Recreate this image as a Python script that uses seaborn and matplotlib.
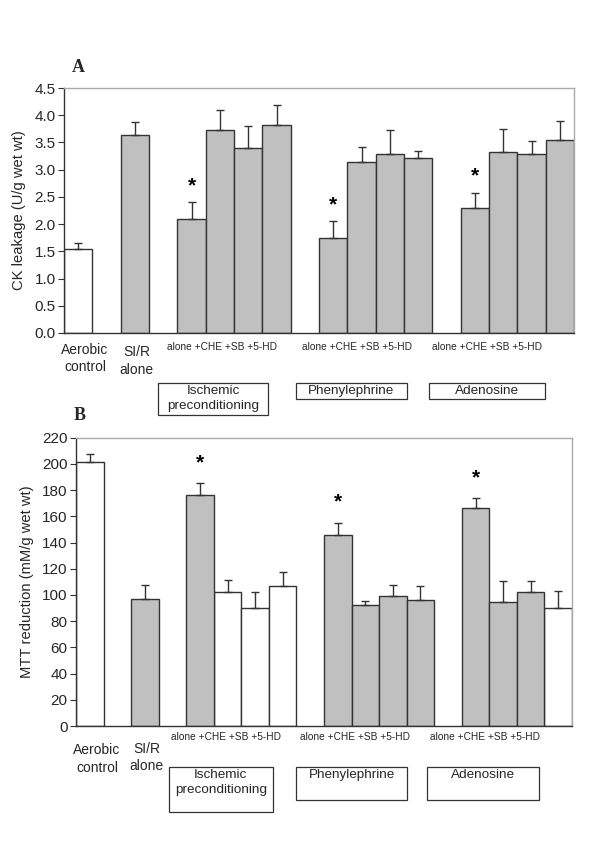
import numpy as np
import pandas as pd
import matplotlib
matplotlib.use("Agg")
import matplotlib.pyplot as plt
from matplotlib.patches import Rectangle
import matplotlib.transforms as mtransforms
import seaborn as sns

sns.set_theme(style="white")
plt.rcParams['font.family'] = ['Liberation Sans', 'DejaVu Sans']

# ---- data ----
groups = ["Aerobic control", "SI/R alone",
          "IPC alone", "IPC +CHE", "IPC +SB", "IPC +5-HD",
          "PE alone", "PE +CHE", "PE +SB", "PE +5-HD",
          "Ad alone", "Ad +CHE", "Ad +SB", "Ad +5-HD"]
ck_mean = [1.54, 3.63, 2.10, 3.72, 3.39, 3.82, 1.74, 3.14, 3.29, 3.21, 2.30, 3.32, 3.29, 3.55]
ck_sem = [0.12, 0.24, 0.31, 0.37, 0.41, 0.36, 0.32, 0.27, 0.44, 0.13, 0.28, 0.42, 0.24, 0.34]
ck_fill = ["open"] + ["filled"] * 13
ck_sig = ["IPC alone", "PE alone", "Ad alone"]

mtt_mean = [201.4, 96.9, 176.0, 102.0, 90.3, 107.0, 145.5, 92.1, 98.9, 96.4, 166.3, 94.6, 102.0, 89.8]
mtt_sem = [5.9, 10.4, 9.1, 9.4, 11.7, 10.8, 9.6, 3.5, 8.4, 10.2, 7.4, 16.3, 8.9, 12.9]
mtt_fill = ["open", "filled", "filled", "open", "open", "open",
            "filled", "filled", "filled", "filled",
            "filled", "filled", "filled", "open"]
mtt_sig = ["IPC alone", "PE alone", "Ad alone"]

sub_label = "alone +CHE +SB +5-HD"
group_names = ["Ischemic\npreconditioning", "Phenylephrine", "Adenosine"]
single_labels = ["Aerobic\ncontrol", "SI/R\nalone"]

# slot order with blank gaps
order = ["Aerobic control", "_g1", "SI/R alone", "_g2",
         "IPC alone", "IPC +CHE", "IPC +SB", "IPC +5-HD", "_g3",
         "PE alone", "PE +CHE", "PE +SB", "PE +5-HD", "_g4",
         "Ad alone", "Ad +CHE", "Ad +SB", "Ad +5-HD"]
pos = {c: i for i, c in enumerate(order)}

GRAY = "#c0c0c0"
EDGE = "#333333"
palette = {"open": "white", "filled": GRAY}

fig = plt.figure(figsize=(6, 8.49), dpi=100)
axA = fig.add_axes([64/600, 1-333/849, (574-64)/600, (333-88)/849])
axB = fig.add_axes([76/600, 1-726/849, (572-76)/600, (726-437.7)/849])


def panel(ax, means, sems, fills, sig, ymax, ystep, fmt, ylabel, star_off,
          lab_y, boxes, sub_x, single_x, single_y):
    df = pd.DataFrame({"group": groups, "value": means, "fill": fills})
    sns.barplot(data=df, x="group", y="value", hue="fill", order=order,
                palette=palette, width=1.0, dodge=False, legend=False,
                edgecolor=EDGE, linewidth=1.0, errorbar=None, ax=ax)
    xs = [pos[g] for g in groups]
    ax.errorbar(xs, means, yerr=[np.zeros(len(sems)), sems], fmt="none",
                ecolor=EDGE, elinewidth=1.0, capsize=3, capthick=1.0, zorder=1)
    for g in sig:
        i = groups.index(g)
        ax.text(pos[g], means[i] + sems[i] + star_off, "*", ha="center",
                va="center", fontsize=15, fontweight="bold", color="black")
    ax.set_xlim(-0.5, len(order) - 0.5)
    ax.set_ylim(0, ymax)
    ax.set_yticks(np.arange(0, ymax + ystep / 2, ystep))
    ax.yaxis.set_major_formatter(matplotlib.ticker.FormatStrFormatter(fmt))
    ax.tick_params(axis="y", left=True, length=4, width=0.8, labelsize=11,
                   color="#333333", pad=2)
    ax.tick_params(axis="x", bottom=False, labelbottom=False)
    ax.set_xlabel("")
    ax.set_ylabel(ylabel, fontsize=10.6, labelpad=6)
    for s in ["left", "bottom"]:
        ax.spines[s].set_color("#333333")
        ax.spines[s].set_linewidth(1.0)
    for s in ["top", "right"]:
        ax.spines[s].set_color("#aaaaaa")
        ax.spines[s].set_linewidth(1.0)
    trans = mtransforms.blended_transform_factory(ax.transData, ax.transAxes)
    for cx in sub_x:
        ax.text(cx, lab_y, sub_label, ha="center", va="center", fontsize=7.3,
                transform=trans, clip_on=False)
    for (x0, x1, ytop, ybot), name in zip(boxes, group_names):
        ax.add_patch(Rectangle((x0, ybot), x1 - x0, ytop - ybot, transform=trans,
                               fill=False, edgecolor="#333333", linewidth=0.9,
                               clip_on=False))
        ax.text((x0 + x1) / 2, ytop - 0.008, name, ha="center", va="top",
                fontsize=9.7, transform=trans, clip_on=False, linespacing=1.35)
    for x, y, t in zip(single_x, single_y, single_labels):
        ax.text(x, y, t, ha="center", va="top", fontsize=10, transform=trans,
                clip_on=False, linespacing=1.3)


panel(axA, ck_mean, ck_sem, ck_fill, ck_sig, 4.5, 0.5, "%.1f",
      "CK leakage (U/g wet wt)", 0.3, -0.057,
      [(2.82, 6.70, -0.204, -0.335), (7.68, 11.60, -0.204, -0.269),
       (12.37, 16.47, -0.204, -0.269)],
      [5.07, 9.83, 14.42], [0.24, 2.07], [-0.04, -0.05])

panel(axB, mtt_mean, mtt_sem, mtt_fill, mtt_sig, 220, 20, "%d",
      "MTT reduction (mM/g wet wt)", 16, -0.038,
      [(2.87, 6.64, -0.142, -0.298), (7.47, 11.53, -0.142, -0.257),
       (12.25, 16.31, -0.142, -0.257)],
      [4.93, 9.64, 14.36], [0.26, 2.07], [-0.06, -0.055])

fig.text(78/600, 1-68/849, "A", fontsize=13, fontweight="bold",
         family=["Liberation Serif", "DejaVu Serif"], ha="center", va="center")
fig.text(80/600, 1-416/849, "B", fontsize=13, fontweight="bold",
         family=["Liberation Serif", "DejaVu Serif"], ha="center", va="center")

fig.savefig("out.png", dpi=100, facecolor="white")
